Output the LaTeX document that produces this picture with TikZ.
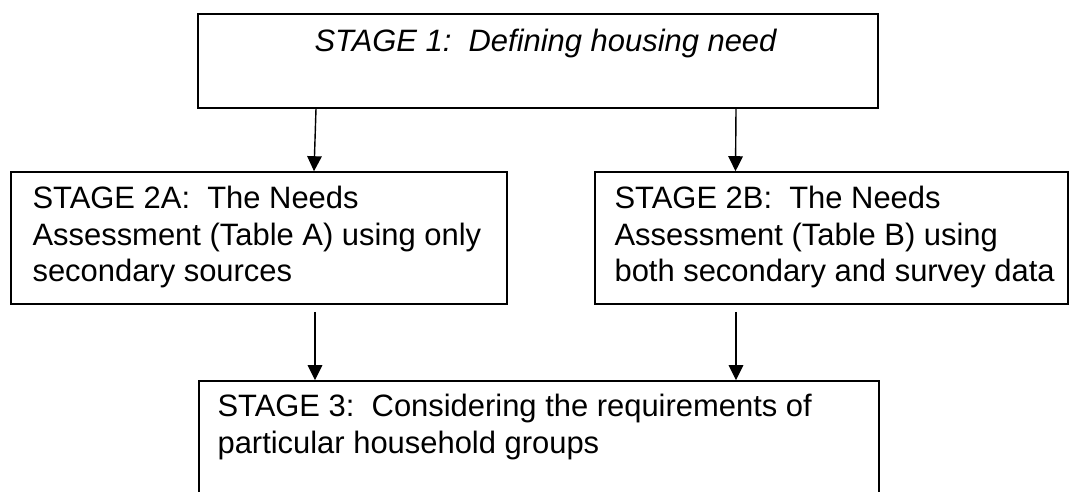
\documentclass[tikz,border=0pt]{standalone}
\usepackage{fontspec}
\setmainfont{Liberation Sans}
\usetikzlibrary{arrows.meta,positioning}

\tikzset{
  stagebox/.style={draw,line width=0.9pt,inner sep=0pt},
  stagetext/.style={inner sep=0pt,anchor=north west,align=left,font=\fontsize{17.6pt}{20.5pt}\selectfont},
  flow/.style={line width=0.8pt,-{Triangle[length=3mm,width=2.9mm]}}
}

\begin{document}
\begin{tikzpicture}[x=0.2mm,y=-0.2mm]
          \useasboundingbox (0,0) rectangle (1070,491);

          % stage boxes
          \node[stagebox,minimum width=136mm,minimum height=18.8mm] (stage1) at (538,61) {};
          \node[stagebox,minimum width=99.2mm,minimum height=26.4mm] (stage2a) at (259,238) {};
          \node[stagebox,minimum width=94.6mm,minimum height=26.4mm] (stage2b) at (831.5,238) {};
          \node[stagebox,minimum width=136mm,minimum height=23.8mm] (stage3) at (539,440.5) {};

          % texts
          \node[stagetext,anchor=north,font=\fontsize{17.6pt}{20.5pt}\selectfont\itshape] (t1) at ([xshift=1.5mm,yshift=-3.2mm]stage1.north) {STAGE 1:\ \ Defining housing need};
          \node[stagetext] (t2a) at ([xshift=4.4mm,yshift=-3mm]stage2a.north west)
            {STAGE 2A:\ \ The Needs\\Assessment (Table A) using only\\secondary sources};
          \node[stagetext] (t2b) at ([xshift=4mm,yshift=-3mm]stage2b.north west)
            {STAGE 2B:\ \ The Needs\\Assessment (Table B) using\\both secondary and survey data};
          \node[stagetext] (t3) at ([xshift=3.8mm,yshift=-2.8mm]stage3.north west)
            {STAGE 3:\ \ Considering the requirements of\\particular household groups};

          % arrows
          \draw[flow] ([xshift=-44.4mm]stage1.south) -- ([xshift=11mm]stage2a.north);
          \draw[flow] ([xshift=39.6mm]stage1.south) -- ([xshift=-19.2mm]stage2b.north);
          \coordinate[below=1.4mm of stage2a.south] (a2a);
          \coordinate[below=1.4mm of stage2b.south] (a2b);
          \draw[flow] ([xshift=11.2mm]a2a) -- ([xshift=11.2mm]a2a |- stage3.north);
          \draw[flow] ([xshift=-19.1mm]a2b) -- ([xshift=-19.1mm]a2b |- stage3.north);
        \end{tikzpicture}
\end{document}
